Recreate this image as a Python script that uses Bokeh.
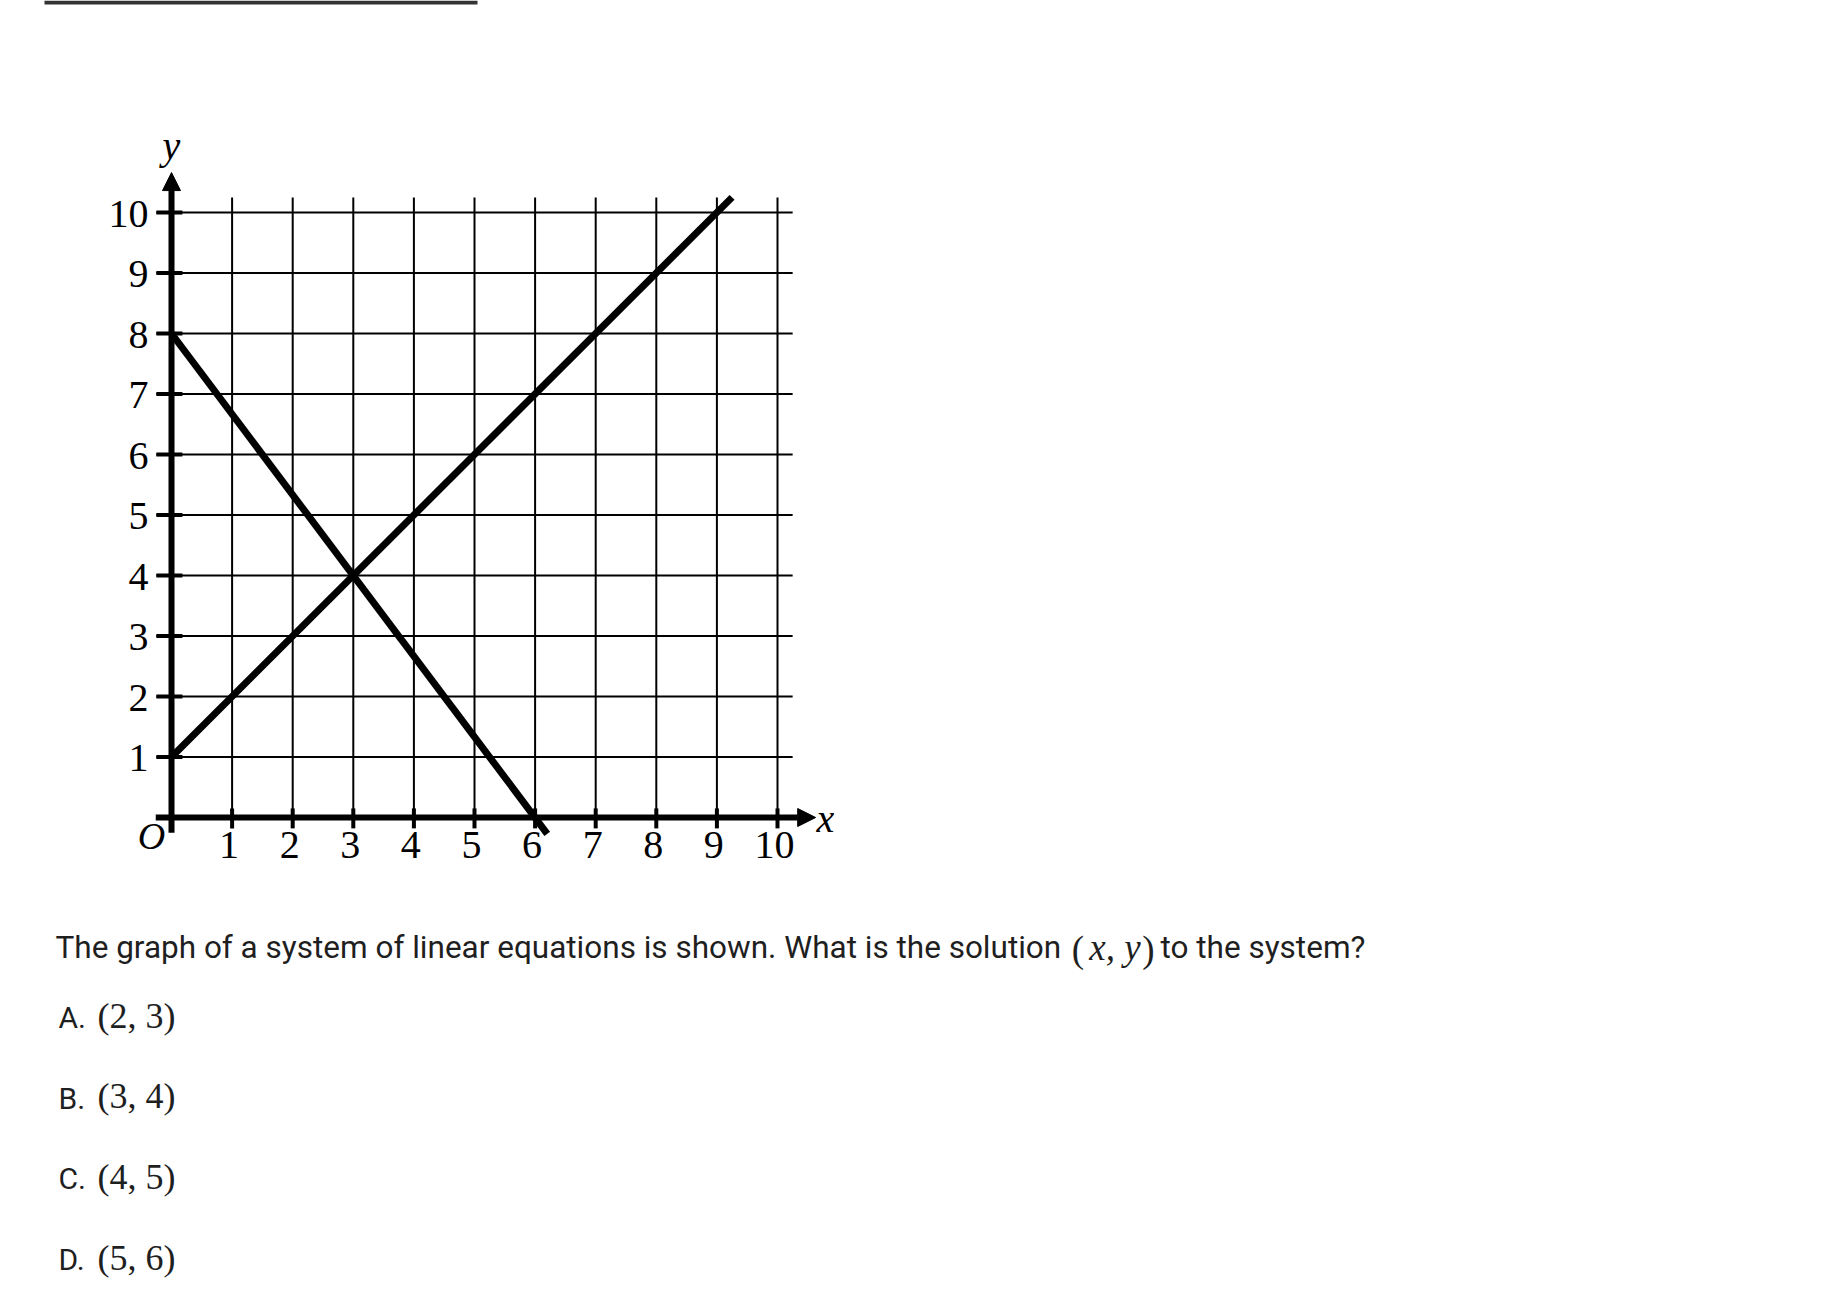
from bokeh.plotting import figure
from bokeh.models import Range1d, Arrow, NormalHead
from bokeh.core.properties import value
from bokeh.embed import file_html
from bokeh.resources import INLINE

# ---------------- data ----------------
x_ticks = [1, 2, 3, 4, 5, 6, 7, 8, 9, 10]
y_ticks = [1, 2, 3, 4, 5, 6, 7, 8, 9, 10]
x_tick_labels = ["1", "2", "3", "4", "5", "6", "7", "8", "9", "10"]
y_tick_labels = ["1", "2", "3", "4", "5", "6", "7", "8", "9", "10"]

# line 1: y = x + 1 ; line 2: y = 8 - 4x/3 (end points)
line1_x = [0, 9.25]
line1_y = [1, 10.25]
line2_x = [0, 6.2]
line2_y = [8, -0.27]

question_text = "The graph of a system of linear equations is shown. What is the solution"
question_math = "x, y"
question_end = "to the system?"
option_letters = ["A.", "B.", "C.", "D."]
option_values = ["(2, 3)", "(3, 4)", "(4, 5)", "(5, 6)"]

# ---------------- layout ----------------
W, H = 1820, 1296
MARGIN = 0
ORIGIN_X, ORIGIN_Y = 171, 817      # page pixel of the chart origin
PX, PY = 60.6, 60.5                # pixels per chart unit


def sx(X):
    return (X - ORIGIN_X) / PX


def sy(Y):
    return (ORIGIN_Y - Y) / PY


p = figure(width=W, height=H,
           x_range=Range1d(sx(MARGIN), sx(MARGIN + W)),
           y_range=Range1d(sy(MARGIN + H), sy(MARGIN)),
           output_backend="svg", toolbar_location=None,
           x_axis_location=None, y_axis_location=None,
           min_border=0, outline_line_color=None,
           background_fill_color="white", border_fill_color="white")
p.grid.visible = False

INK = "#000000"
TEXT = "#1f1f1f"
SERIF = value("Liberation Serif")
SANS = value("Roboto")

# top decorative bar
p.quad(left=[sx(44)], right=[sx(477)], top=[sy(0)], bottom=[sy(4)],
       fill_color="#333333", line_color=None)

GRID_LO = -0.25
GRID_HI = 10.25
XGRID_LO = -0.17

# grid lines
p.segment(x0=[GRID_LO] * len(y_ticks), y0=y_ticks, x1=[GRID_HI] * len(y_ticks), y1=y_ticks,
          line_color=INK, line_width=2)
p.segment(x0=x_ticks, y0=[XGRID_LO] * len(x_ticks), x1=x_ticks, y1=[GRID_HI] * len(x_ticks),
          line_color=INK, line_width=2)
# thicker tick marks at the axes
p.segment(x0=[GRID_LO] * len(y_ticks), y0=y_ticks, x1=[0.18] * len(y_ticks), y1=y_ticks,
          line_color=INK, line_width=4)
p.segment(x0=x_ticks, y0=[-0.18] * len(x_ticks), x1=x_ticks, y1=[0.15] * len(x_ticks),
          line_color=INK, line_width=4)

# axes with arrows
p.add_layout(Arrow(x_start=-0.26, y_start=0, x_end=10.63, y_end=0,
                   line_width=6, line_color=INK,
                   end=NormalHead(size=18, fill_color=INK, line_color=INK)))
p.add_layout(Arrow(x_start=0, y_start=-0.25, x_end=0, y_end=10.66,
                   line_width=6, line_color=INK,
                   end=NormalHead(size=18, fill_color=INK, line_color=INK)))

# the two lines
p.line(line1_x, line1_y, line_color=INK, line_width=7, line_cap="butt")
p.line(line2_x, line2_y, line_color=INK, line_width=7, line_cap="butt")

# tick labels
p.text(x=[v - 0.05 for v in x_ticks], y=[-0.46] * len(x_ticks), text=x_tick_labels,
       text_font=SERIF, text_font_size="40px", text_color=INK,
       text_align="center", text_baseline="middle")
p.text(x=[-0.38] * len(y_ticks), y=[v - 0.02 for v in y_ticks], text=y_tick_labels,
       text_font=SERIF, text_font_size="40px", text_color=INK,
       text_align="right", text_baseline="middle")
p.text(x=[-0.33], y=[-0.3], text=["O"], text_font=SERIF, text_font_size="38px",
       text_font_style="italic", text_color=INK, text_align="center", text_baseline="middle")
p.text(x=[sx(816)], y=[sy(818)], text=["x"], text_font=SERIF, text_font_size="40px",
       text_font_style="italic", text_color=INK, text_align="left", text_baseline="middle")
p.text(x=[0], y=[sy(145)], text=["y"], text_font=SERIF, text_font_size="40px",
       text_font_style="italic", text_color=INK, text_align="center", text_baseline="middle")

# question
QBASE = 947
p.text(x=[sx(55)], y=[sy(QBASE)], text=[question_text], text_font=SANS, text_font_size="31.5px",
       text_color=TEXT, text_align="left", text_baseline="alphabetic")
p.text(x=[sx(1077.5), sx(1148)], y=[sy(QBASE + 2)] * 2, text=["(", ")"], text_font=SERIF,
       text_font_size="37px", text_color=TEXT, text_align="center", text_baseline="alphabetic")
p.text(x=[sx(1114.5)], y=[sy(QBASE)], text=[question_math], text_font=SERIF,
       text_font_size="37px", text_font_style="italic", text_color=TEXT,
       text_align="center", text_baseline="alphabetic")
p.text(x=[sx(1160)], y=[sy(QBASE)], text=[question_end], text_font=SANS, text_font_size="31.5px",
       text_color=TEXT, text_align="left", text_baseline="alphabetic")

# options
OPT_BASE, OPT_STEP = 1017, 80.7
opt_y = [sy(OPT_BASE + i * OPT_STEP) for i in range(len(option_letters))]
p.text(x=[sx(58)] * len(option_letters), y=opt_y, text=option_letters, text_font=SANS,
       text_font_size="30px", text_color=TEXT, text_align="left", text_baseline="alphabetic")
p.text(x=[sx(97)] * len(option_values), y=[v + 0.03 for v in opt_y], text=option_values,
       text_font=SERIF, text_font_size="36px", text_color=TEXT,
       text_align="left", text_baseline="alphabetic")

open("out.html", "w").write(file_html(p, INLINE))
